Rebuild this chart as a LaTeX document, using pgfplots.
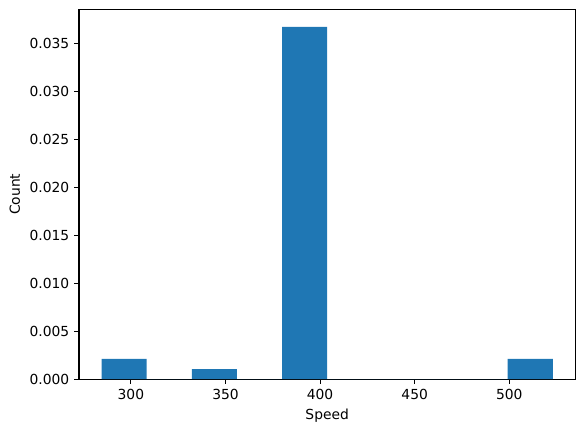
\documentclass[border=0pt]{standalone}
\usepackage{pgfplots}
\pgfplotsset{compat=1.18}
\usepackage{fontspec}
\setmainfont{DejaVu Sans}
\definecolor{mplblue}{HTML}{1F77B4}
\begin{document}
\begin{tikzpicture}
\useasboundingbox (-0.79in,-0.527in) rectangle (5.047in,3.789in);
\begin{axis}[
    at={(0,0)}, anchor=south west,
    scale only axis,
    width=4.96in, height=3.696in,
    xmin=272.6, xmax=534.9,
    ymin=0, ymax=0.03853,
    xtick={300,350,400,450,500},
    ytick={0,0.005,0.010,0.015,0.020,0.025,0.030,0.035},
    yticklabel style={/pgf/number format/.cd, fixed, fixed zerofill, precision=3},
    scaled y ticks=false,
    /pgf/number format/assume math mode=true,
    tick align=outside,
    major tick length=3.5pt,
    tick style={line width=0.8pt, black},
    axis line style={line width=0.8pt},
    xtick pos=bottom, ytick pos=left,
    ticklabel style={font=\fontsize{10}{12}\selectfont},
    label style={font=\fontsize{10}{12}\selectfont},
    xlabel={Speed},
    ylabel={Count},
]
\addplot[ybar interval, fill=mplblue, draw=none] coordinates {
    (284.5,0.002096) (308.35,0) (332.2,0.001048) (356.05,0)
    (379.9,0.03669) (403.75,0) (427.6,0) (451.45,0)
    (475.3,0) (499.15,0.002096) (523.0,0.002096)
};
\end{axis}
\end{tikzpicture}
\end{document}
